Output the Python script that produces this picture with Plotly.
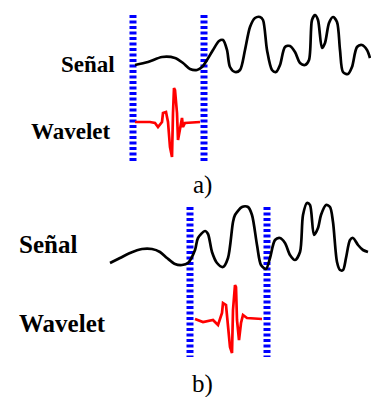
import plotly.graph_objects as go

# ---- data (diagram units = pixels, y downward) ----
signal_a_x = [135, 148, 162, 175, 183, 190, 197, 202, 207, 213, 219, 223, 227, 230, 235, 240, 245, 250, 255, 260, 263, 267, 272, 276, 280, 285, 290, 295, 300, 305, 309, 312, 315, 318, 322, 325, 329, 333, 337, 340, 343, 348, 352, 357, 362, 367, 370]
signal_a_y = [65, 62, 57, 58, 63, 69, 70, 67, 60, 50, 41, 40, 50, 67, 72, 70, 50, 27, 18, 17, 20, 50, 70, 72, 65, 47, 46, 52, 63, 65, 60, 20, 15, 20, 48, 43, 23, 17, 22, 50, 72, 74, 67, 47, 45, 50, 58]

signal_b_x = [110, 120, 130, 142, 152, 160, 167, 175, 182, 188, 195, 198, 205, 208, 212, 217, 223, 228, 233, 235, 242, 248, 252, 257, 261, 266, 270, 275, 280, 285, 290, 295, 300, 303, 307, 310, 314, 318, 321, 326, 330, 333, 337, 340, 343, 346, 350, 353, 358, 363, 368]
signal_b_y = [263, 258, 253, 249, 249, 252, 258, 264, 265, 263, 250, 238, 231, 234, 252, 263, 267, 258, 222, 215, 207, 207, 215, 245, 265, 269, 258, 240, 238, 243, 255, 260, 252, 215, 203, 205, 235, 228, 215, 205, 207, 222, 262, 270, 270, 258, 240, 238, 245, 250, 252]

wavelet_a_x = [135, 150, 155, 158, 162, 163, 166, 168, 170, 172, 173, 174, 175, 177, 178, 180, 182, 183, 185, 200]
wavelet_a_y = [122, 122, 123, 127, 122, 113, 112, 122, 147, 157, 113, 88, 90, 113, 140, 130, 118, 127, 123, 122]

wavelet_b_x = [195, 203, 213, 218, 222, 223, 226, 228, 230, 232, 233, 235, 236, 237, 239, 241, 243, 247, 262]
wavelet_b_y = [319, 322, 320, 325, 313, 303, 305, 323, 347, 353, 310, 285, 287, 320, 340, 323, 315, 318, 319]

window_a_x = [133, 204]
window_a_y = [15, 162]
window_b_x = [190, 267]
window_b_y = [207, 357]

labels = ["Señal", "Wavelet", "Señal", "Wavelet"]
label_x = [117, 113, 17, 17]
label_y = [64, 131, 244, 323]
captions = ["a)", "b)"]
caption_x = [202, 202]
caption_y = [185, 384]

fig = go.Figure()

# window lines
for wx, wy in [(window_a_x, window_a_y), (window_b_x, window_b_y)]:
    for xv in wx:
        fig.add_trace(go.Scatter(x=[xv, xv], y=wy, mode="lines",
                                 line=dict(color="#0000ff", width=7, dash="3px,2.5px"),
                                 hoverinfo="skip"))

fig.add_trace(go.Scatter(x=signal_a_x, y=signal_a_y, mode="lines",
                         line=dict(color="black", width=2.7, shape="spline", smoothing=0.8)))
fig.add_trace(go.Scatter(x=signal_b_x, y=signal_b_y, mode="lines",
                         line=dict(color="black", width=2.7, shape="spline", smoothing=0.8)))
fig.add_trace(go.Scatter(x=wavelet_a_x, y=wavelet_a_y, mode="lines",
                         line=dict(color="#ff0000", width=2.7)))
fig.add_trace(go.Scatter(x=wavelet_b_x, y=wavelet_b_y, mode="lines",
                         line=dict(color="#ff0000", width=2.7)))

anns = []
for i, (t, x, y) in enumerate(zip(labels, label_x, label_y)):
    anns.append(dict(text="<b>" + t + "</b>", x=x, y=y, xref="x", yref="y",
                     showarrow=False, xanchor="right" if i < 2 else "left", yanchor="middle",
                     font=dict(family="Liberation Serif", size=23 if i < 2 else 25, color="black")))
for t, x, y in zip(captions, caption_x, caption_y):
    anns.append(dict(text=t, x=x, y=y, xref="x", yref="y", showarrow=False,
                     xanchor="center", yanchor="middle",
                     font=dict(family="Liberation Serif", size=25, color="black")))

fig.update_layout(
    width=371, height=397, margin=dict(l=0, r=0, t=0, b=0),
    paper_bgcolor="white", plot_bgcolor="white", showlegend=False,
    xaxis=dict(range=[0, 371], visible=False, fixedrange=True),
    yaxis=dict(range=[397, 0], visible=False, fixedrange=True),
    annotations=anns,
)

fig.write_html("out.html", config={"displayModeBar": False},
               post_script="document.body.style.margin='0';")
